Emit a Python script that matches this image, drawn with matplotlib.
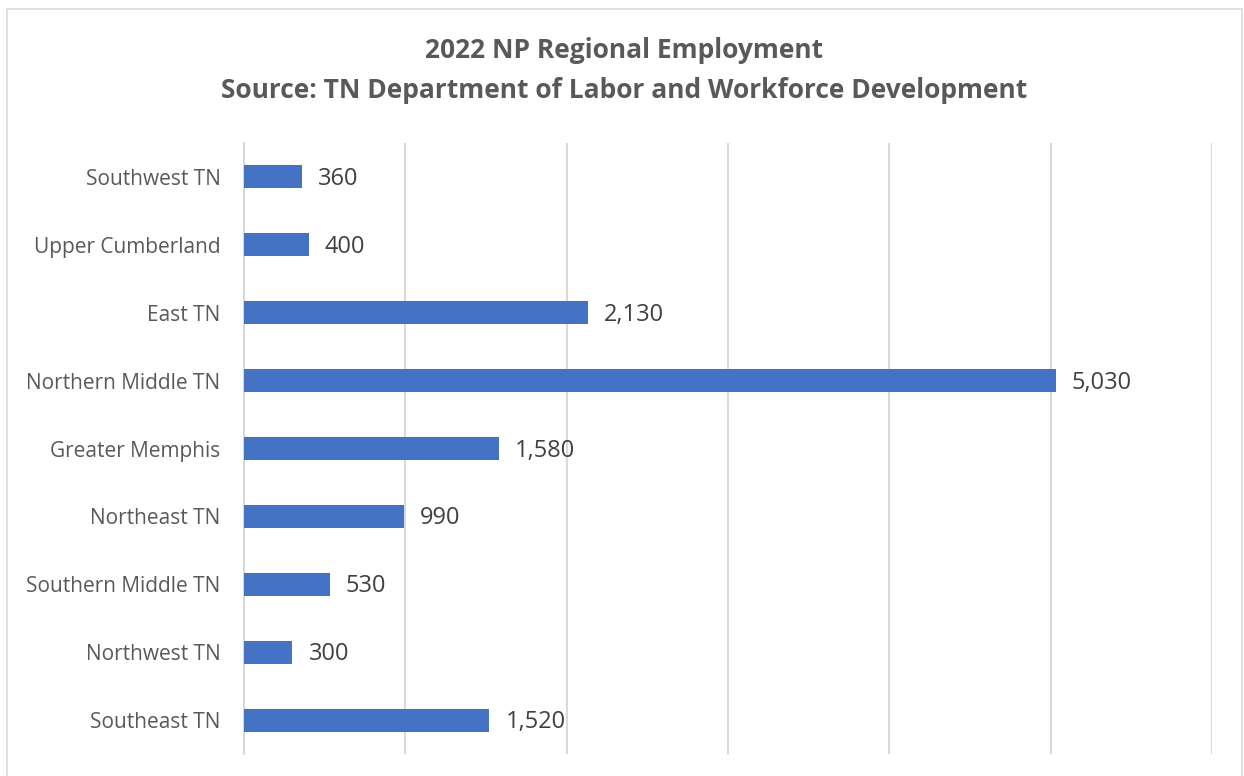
import matplotlib.pyplot as plt
from matplotlib.patches import Rectangle

regions = ["Southwest TN", "Upper Cumberland", "East TN", "Northern Middle TN",
           "Greater Memphis", "Northeast TN", "Southern Middle TN", "Northwest TN",
           "Southeast TN"]
employment = [360, 400, 2130, 5030, 1580, 990, 530, 300, 1520]

plt.rcParams['font.family'] = ['Open Sans', 'DejaVu Sans']

W, H = 1244, 776
fig = plt.figure(figsize=(W / 100, H / 100), dpi=100)

# light chart-area border
fig.patches.append(Rectangle((7 / W, -0.05), (1242 - 7) / W, 1.05 - 9 / H,
                             transform=fig.transFigure, fill=False,
                             edgecolor='#d9d9d9', linewidth=1.2))

ax = fig.add_axes([244 / W, 1 - 754 / H, (1212 - 244) / W, (754 - 143) / H])

y = list(range(len(regions)))
ax.barh(y, employment, height=0.34, color='#4472C4', zorder=3)

for yi, v in zip(y, employment):
    ax.text(v + 100, yi + 0.03, f"{v:,}", va='center', ha='left',
            fontsize=17, color='#404040')

ax.set_xlim(0, 6000)
ax.set_ylim(len(regions) - 0.5, -0.5)
ax.set_xticks(range(0, 6001, 1000))
ax.xaxis.grid(True, color='#d9d9d9', linewidth=1.5, zorder=0)
ax.tick_params(axis='x', bottom=False, labelbottom=False)
ax.tick_params(axis='y', length=0, pad=17, labelsize=15, labelcolor='#595959')
ax.set_yticks(y)
ax.set_yticklabels(regions)
for s in ['top', 'right', 'bottom']:
    ax.spines[s].set_visible(False)
ax.spines['left'].set_color('#d9d9d9')
ax.spines['left'].set_linewidth(1.5)

fig.text(624 / W, 1 - 51 / H, "2022 NP Regional Employment", ha='center', va='center',
         fontsize=19, fontweight='bold', color='#595959')
fig.text(624 / W, 1 - 90 / H, "Source: TN Department of Labor and Workforce Development",
         ha='center', va='center', fontsize=19, fontweight='bold', color='#595959')

fig.savefig('out.png', dpi=100)
